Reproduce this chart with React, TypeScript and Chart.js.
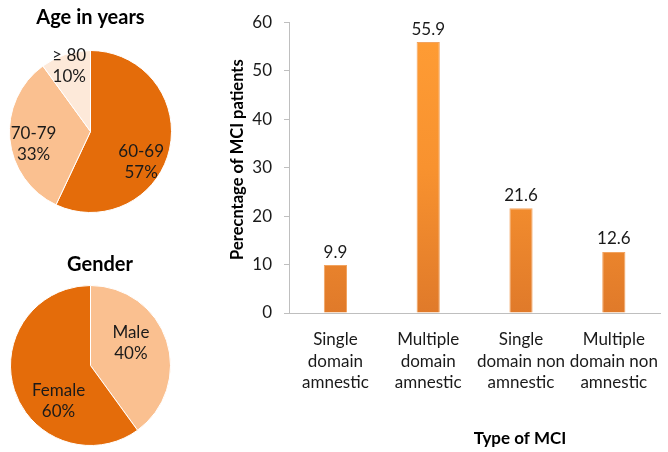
import React, { useEffect, useRef } from "react";
import { Chart, registerables } from "chart.js";

Chart.register(...registerables);

// ---- Data ----
const ageLabels = ["60-69", "70-79", "≥ 80"];
const ageValues = [57, 33, 10];
const genderLabels = ["Male", "Female"];
const genderValues = [40, 60];
const mciCategories = [
  ["Single", "domain", "amnestic"],
  ["Multiple", "domain", "amnestic"],
  ["Single", "domain non", "amnestic"],
  ["Multiple", "domain non", "amnestic"],
];
const mciValues = [9.9, 55.9, 21.6, 12.6];
const yTicks = [0, 10, 20, 30, 40, 50, 60];

const FONT = "Lato, 'Open Sans', 'DejaVu Sans', sans-serif";
const TEXT = "#1a1a1a";
const DARK = "#E46C0A";
const MID = "#FAC090";
const LIGHT = "#FDE9D9";

// Plugin: pie slice labels ("name" / "pct%") and a panel title
const pieTextPlugin = {
  id: "pieText",
  afterDatasetsDraw(chart: any, _args: any, opts: any) {
    const ctx = chart.ctx;
    const meta = chart.getDatasetMeta(0);
    const labels = chart.data.labels as string[];
    const values = chart.data.datasets[0].data as number[];
    ctx.save();
    ctx.fillStyle = TEXT;
    ctx.textAlign = "center";
    ctx.textBaseline = "middle";
    ctx.font = `17px ${FONT}`;
    meta.data.forEach((arc: any, i: number) => {
      const p = arc.getProps(["x", "y", "startAngle", "endAngle", "outerRadius"], true);
      const [af, rf] = opts.anchors[i];
      const a = p.startAngle + (p.endAngle - p.startAngle) * af;
      const r = p.outerRadius * rf;
      const cx = p.x + Math.cos(a) * r;
      const cy = p.y + Math.sin(a) * r;
      ctx.fillText(labels[i], cx, cy - 10.5);
      ctx.fillText(values[i] + "%", cx, cy + 10.5);
    });
    ctx.font = `bold 20px ${FONT}`;
    ctx.fillStyle = "#000";
    ctx.fillText(opts.title, opts.titleX, opts.titleY);
    ctx.restore();
  },
};

// Plugin: value labels above bars and axis titles
const barTextPlugin = {
  id: "barText",
  afterDatasetsDraw(chart: any) {
    const ctx = chart.ctx;
    const meta = chart.getDatasetMeta(0);
    const values = chart.data.datasets[0].data as number[];
    ctx.save();
    ctx.fillStyle = TEXT;
    ctx.textAlign = "center";
    ctx.textBaseline = "middle";
    ctx.font = `17px ${FONT}`;
    meta.data.forEach((bar: any, i: number) => {
      ctx.fillText(values[i].toFixed(1), bar.x, bar.y - 13);
    });
    const area = chart.chartArea;
    ctx.fillStyle = "#000";
    ctx.font = `bold 16.5px ${FONT}`;
    // y title
    ctx.save();
    ctx.translate(area.left - 51, (area.top + area.bottom) / 2 - 8);
    ctx.rotate(-Math.PI / 2);
    ctx.fillText("Perecntage of MCI patients", 0, 0);
    ctx.restore();
    // x title
    ctx.font = `bold 17px ${FONT}`;
    ctx.fillText("Type of MCI", area.left + 231, area.bottom + 126);
    ctx.restore();
  },
};

function PieChart(props: {
  labels: string[];
  values: number[];
  colors: string[];
  anchors: number[][];
  title: string;
  titleX: number;
  titleY: number;
  padding: any;
  style: React.CSSProperties;
}) {
  const ref = useRef<HTMLCanvasElement>(null);
  useEffect(() => {
    const chart = new Chart(ref.current!, {
      type: "pie",
      data: {
        labels: props.labels,
        datasets: [
          {
            data: props.values,
            backgroundColor: props.colors,
            borderColor: "#ffffff",
            borderWidth: 1,
          },
        ],
      },
      options: {
        animation: false,
        responsive: false,
        events: [],
        layout: { padding: props.padding },
        plugins: {
          legend: { display: false },
          tooltip: { enabled: false },
          title: { display: false },
          pieText: { anchors: props.anchors, title: props.title, titleX: props.titleX, titleY: props.titleY },
        } as any,
      },
      plugins: [pieTextPlugin],
    });
    return () => chart.destroy();
  }, []);
  const w = props.style.width as number;
  const h = props.style.height as number;
  return <canvas ref={ref} width={w} height={h} style={{ position: "absolute", ...props.style }} />;
}

function BarChart() {
  const ref = useRef<HTMLCanvasElement>(null);
  useEffect(() => {
    const chart = new Chart(ref.current!, {
      type: "bar",
      data: {
        labels: mciCategories as any,
        datasets: [
          {
            data: mciValues,
            backgroundColor: (c: any) => {
              const area = c.chart.chartArea;
              if (!area) return "#F08C30";
              const g = c.chart.ctx.createLinearGradient(0, area.top, 0, area.bottom);
              g.addColorStop(0, "#FF9D35");
              g.addColorStop(0.5, "#F8922F");
              g.addColorStop(1, "#E07A2A");
              return g;
            },
            borderColor: "#F2A35F",
            borderWidth: 1,
            categoryPercentage: 1,
            barPercentage: 0.25,
          },
        ],
      },
      options: {
        animation: false,
        responsive: false,
        events: [],
        layout: { padding: { top: 22, right: 1, left: 0, bottom: 0 } },
        scales: {
          x: {
            afterFit: (s: any) => {
              s.height = 139;
            },
            grid: { display: false, drawTicks: false },
            border: { color: "#BFBFBF", width: 1 },
            ticks: {
              color: TEXT,
              font: { family: FONT, size: 17, lineHeight: 1.27 },
              padding: 16,
              maxRotation: 0,
              autoSkip: false,
            },
          },
          y: {
            min: 0,
            max: 60,
            afterFit: (s: any) => {
              s.width = 99;
            },
            afterBuildTicks: (s: any) => {
              s.ticks = yTicks.map((v) => ({ value: v }));
            },
            grid: { drawOnChartArea: false, drawTicks: true, tickLength: 5, color: "#BFBFBF" },
            border: { color: "#BFBFBF", width: 1 },
            ticks: {
              color: TEXT,
              font: { family: FONT, size: 17 },
              padding: 12,
            },
          },
        },
        plugins: {
          legend: { display: false },
          tooltip: { enabled: false },
        },
      },
      plugins: [barTextPlugin],
    });
    return () => chart.destroy();
  }, []);
  return (
    <canvas
      ref={ref}
      width={484}
      height={452}
      style={{ position: "absolute", left: 190, top: 0, width: 484, height: 452 }}
    />
  );
}

export default function App() {
  return (
    <div
      style={{
        position: "fixed",
        left: 0,
        top: 0,
        width: 668,
        height: 452,
        overflow: "hidden",
        background: "#ffffff",
      }}
    >
      <PieChart
        labels={ageLabels}
        values={ageValues}
        colors={[DARK, MID, LIGHT]}
        anchors={[
          [0.59, 0.73],
          [0.44, 0.72],
          [0.5, 0.85],
        ]}
        title="Age in years"
        titleX={90.5}
        titleY={18}
        padding={{ top: 50, left: 9, right: 10, bottom: 7 }}
        style={{ left: 0, top: 0, width: 182, height: 220 }}
      />
      <PieChart
        labels={genderLabels}
        values={genderValues}
        colors={[MID, DARK]}
        anchors={[
          [0.42, 0.58],
          [0.36, 0.6],
        ]}
        title="Gender"
        titleX={100}
        titleY={25}
        padding={{ top: 45, left: 10, right: 11, bottom: 6 }}
        style={{ left: 0, top: 240, width: 182, height: 212 }}
      />
      <BarChart />
    </div>
  );
}
